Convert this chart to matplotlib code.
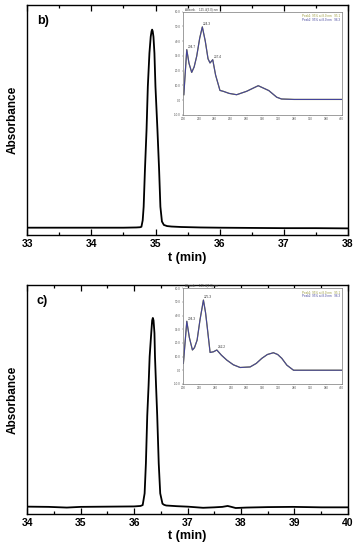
import matplotlib
matplotlib.use("Agg")
import matplotlib.pyplot as plt
from matplotlib.ticker import MultipleLocator, NullLocator

plt.rcParams['font.family'] = ['Liberation Sans', 'DejaVu Sans']

# ---- Panel b chromatogram ----
t_b = [33.0, 33.5, 34.0, 34.5, 34.70, 34.76, 34.78, 34.80, 34.815, 34.835, 34.86, 34.88,
       34.905, 34.925, 34.938, 34.947, 34.956, 34.968, 34.983, 34.999, 35.03, 35.056,
       35.076, 35.10, 35.13, 35.18, 35.25, 35.4, 35.7, 36.0, 36.5, 37.0, 37.5, 38.0]
a_b = [0.033, 0.033, 0.033, 0.033, 0.034, 0.035, 0.037, 0.065, 0.124, 0.284, 0.458, 0.646,
       0.791, 0.862, 0.886, 0.893, 0.886, 0.862, 0.791, 0.646, 0.458, 0.284,
       0.124, 0.060, 0.045, 0.040, 0.038, 0.036, 0.034, 0.033, 0.032, 0.031, 0.031, 0.030]

# ---- Panel c chromatogram ----
t_c = [34.0, 34.4, 34.74, 35.0, 35.5, 36.0, 36.12, 36.16, 36.196, 36.22, 36.245, 36.27,
       36.29, 36.32, 36.337, 36.35, 36.363, 36.38, 36.39, 36.41, 36.432, 36.46, 36.488,
       36.53, 36.56, 36.6, 36.8, 37.0, 37.29, 37.5, 37.65, 37.75, 37.82, 37.9, 38.1,
       38.5, 38.97, 39.5, 40.0]
a_c = [0.032, 0.031, 0.028, 0.031, 0.032, 0.033, 0.035, 0.039, 0.09, 0.221, 0.428, 0.56,
       0.687, 0.79, 0.845, 0.856, 0.845, 0.79, 0.687, 0.56, 0.428, 0.221, 0.09,
       0.045, 0.040, 0.037, 0.034, 0.032, 0.027, 0.029, 0.031, 0.035, 0.031, 0.026, 0.028,
       0.030, 0.031, 0.029, 0.029]

# ---- Inset spectra (nm, mAU) ----
wl_b = [201, 204.7, 207.5, 210.9, 214, 217.2, 221, 224.3, 228, 231.5, 234, 237.4, 241,
        246.5, 250.7, 258, 267.5, 280, 294.7, 308, 318, 324, 340, 370, 400]
sp_b = [3.7, 34.2, 25, 18.8, 22.5, 29.7, 42, 49.6, 40, 28, 25.2, 27.4, 17,
        6.6, 6.0, 4.6, 3.7, 6, 9.8, 6.5, 2.0, 0.8, 0.5, 0.5, 0.5]
pk_b = [(204.7, 34.2, "204.7"), (224.3, 49.6, "224.3"), (237.4, 27.4, "237.4")]

wl_c = [200, 204.3, 207.5, 211.4, 214, 217.3, 221, 225.3, 228, 230, 233.7, 238, 242.2,
        248, 254.8, 263, 271.6, 284.2, 292, 299, 306, 313.6, 319, 324.2, 330.6, 339,
        350, 400]
sp_c = [5.0, 35.8, 24, 14.8, 16.5, 22, 37, 51.3, 42, 32, 13.0, 13.5, 14.8,
        11, 7.4, 4, 2.0, 2.4, 5, 8.7, 11.5, 12.8, 11.5, 8.7, 3.7, 0,
        0, 0]
pk_c = [(204.3, 35.8, "204.3"), (225.3, 51.3, "225.3"), (242.2, 14.8, "242.2")]

fig = plt.figure(figsize=(3.61, 5.5), dpi=100)


def main_panel(rect, t, a, xmin, xmax, label):
    ax = fig.add_axes(rect)
    ax.plot(t, a, color='black', lw=1.3)
    ax.set_xlim(xmin, xmax)
    ax.set_ylim(0, 1)
    ax.xaxis.set_major_locator(MultipleLocator(1))
    ax.xaxis.set_minor_locator(MultipleLocator(0.5))
    ax.yaxis.set_major_locator(NullLocator())
    ax.tick_params(axis='x', which='both', direction='in', top=True, bottom=True,
                   labelsize=7.5, pad=3)
    ax.tick_params(axis='x', which='major', length=4, width=0.9)
    ax.tick_params(axis='x', which='minor', length=2, width=0.9)
    for lab in ax.get_xticklabels():
        lab.set_fontweight('bold')
    for s in ax.spines.values():
        s.set_linewidth(1.0)
    ax.set_xlabel('t (min)', fontsize=9, fontweight='bold', labelpad=1.5)
    ax.set_ylabel('Absorbance', fontsize=8.5, fontweight='bold', labelpad=6)
    ax.text(0.03, 0.955, label, transform=ax.transAxes, fontsize=9,
            fontweight='bold', va='top', ha='left')
    return ax


def inset(rect, wl, sp, peaks):
    ax = fig.add_axes(rect)
    ax.plot(wl, sp, color='#9a9a3a', lw=0.9)
    ax.plot(wl, sp, color='#44449a', lw=0.8)
    ax.set_xlim(200, 400)
    ax.set_ylim(-10, 60)
    ax.xaxis.set_major_locator(MultipleLocator(20))
    ax.yaxis.set_major_locator(MultipleLocator(10))
    ax.tick_params(labelsize=2.2, length=1, width=0.3, pad=0.8, colors='#555555')
    ax.yaxis.set_major_formatter(matplotlib.ticker.FormatStrFormatter('%.1f'))
    for s in ax.spines.values():
        s.set_linewidth(0.5)
        s.set_color('#777777')
    for x, y, txt in peaks:
        ax.text(x + 1, y + 0.5, txt, fontsize=2.3, color='#333333', ha='left', va='bottom')
    ax.text(0.01, 1.0, 'Absorb.    125.4(3.0) nm', transform=ax.transAxes, fontsize=2.2,
            color='#444444', va='bottom', ha='left')
    ax.text(0.99, 0.975, 'Peak1: 95% at 8.0 nm   95.1', transform=ax.transAxes,
            fontsize=2.2, color='#9a9a3a', va='top', ha='right')
    ax.text(0.99, 0.935, 'Peak2: 95% at 8.0 nm   96.3', transform=ax.transAxes,
            fontsize=2.2, color='#44449a', va='top', ha='right')
    return ax


main_panel([0.0756, 0.5722, 0.888, 0.4187], t_b, a_b, 33, 38, 'b)')
main_panel([0.0756, 0.0655, 0.888, 0.4164], t_c, a_c, 34, 40, 'c)')
inset([0.507, 0.791, 0.44, 0.188], wl_b, sp_b, pk_b)
inset([0.508, 0.302, 0.439, 0.174], wl_c, sp_c, pk_c)

fig.savefig('out.png', dpi=100)
